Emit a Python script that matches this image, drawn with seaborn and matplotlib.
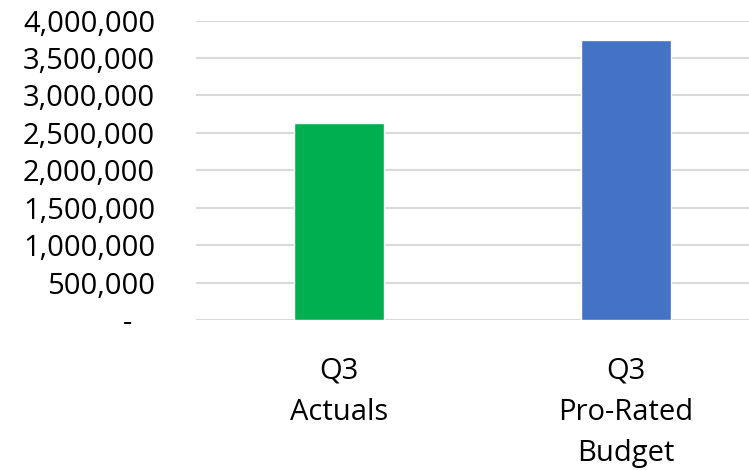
import matplotlib
matplotlib.use("Agg")
import matplotlib.pyplot as plt
import seaborn as sns
import pandas as pd
from matplotlib.ticker import FuncFormatter

categories = ["Q3\nActuals", "Q3\nPro-Rated\nBudget"]
values = [2630000, 3740000]
bar_colors = ["#00B050", "#4472C4"]

sns.set_theme(style="white")
plt.rcParams["font.family"] = ["Open Sans", "DejaVu Sans"]

df = pd.DataFrame({"category": categories, "value": values})

fig = plt.figure(figsize=(7.49, 4.70), dpi=100)
ax = fig.add_axes([195.5 / 749, 149.7 / 470, 574 / 749, 299.8 / 470])

sns.barplot(data=df, x="category", y="value", hue="category",
            palette=bar_colors, width=0.314, legend=False, ax=ax,
            saturation=1, zorder=3)

ax.set_ylim(0, 4000000)
ax.set_yticks(range(0, 4000001, 500000))
# accounting-style labels: zero shown as a dash, set in from the right edge
ax.yaxis.set_major_formatter(
    FuncFormatter(lambda v, _: "-   " if v == 0 else f"{int(v):,}"))
ax.grid(axis="y", color="#d9d9d9", linewidth=1.5, zorder=0)
ax.grid(axis="x", visible=False)
for s in ax.spines.values():
    s.set_visible(False)

ax.set_xlabel("")
ax.set_ylabel("")
ax.tick_params(axis="both", length=0, labelsize=21, colors="#000000")
ax.tick_params(axis="y", pad=29)
ax.tick_params(axis="x", pad=26)

fig.canvas.draw()
for lbl in ax.get_xticklabels():
    lbl.set_linespacing(1.55)

fig.savefig("out.png", dpi=100, facecolor="white")
